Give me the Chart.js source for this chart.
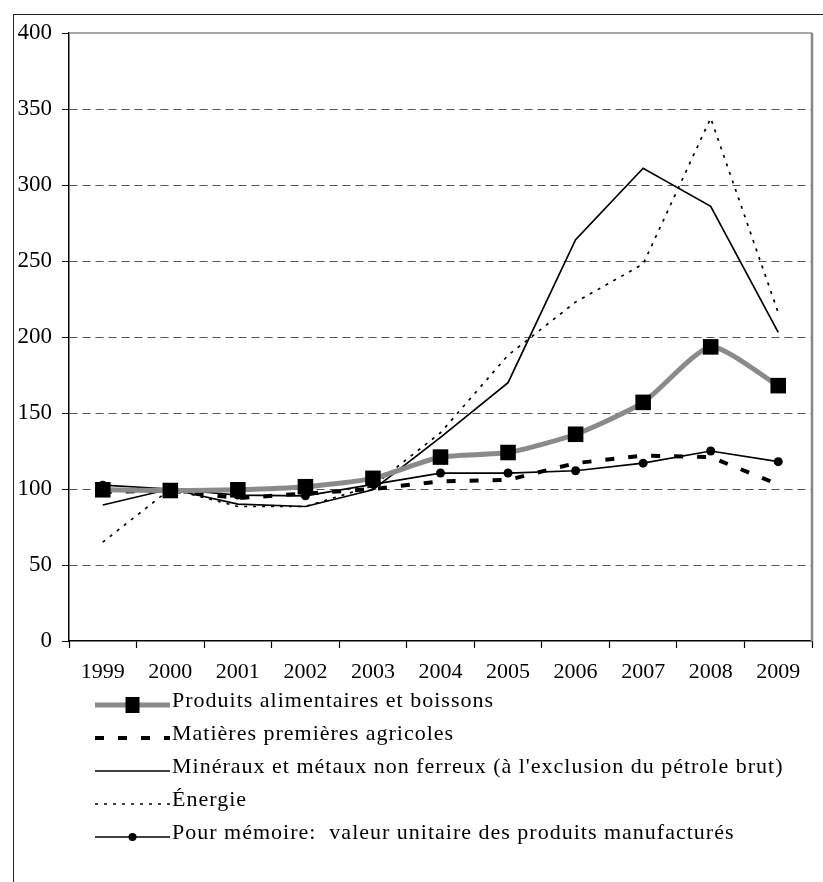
<!DOCTYPE html>
<html>
<head>
<meta charset="utf-8">
<script src="https://cdn.jsdelivr.net/npm/chart.js@4.4.0/dist/chart.umd.min.js"></script>
<style>
  html, body { margin: 0; padding: 0; background: #fff; overflow: hidden; }
  #frame { position: absolute; left: 13px; top: 14px; width: 1000px; height: 1000px;
           border-left: 1.5px solid #222; border-top: 1.5px solid #222; }
  #chart { position: absolute; left: 0; top: 0; }
  #legend { position: absolute; left: 95px; top: 683px; font-family: "Liberation Serif", serif;
            font-size: 22px; letter-spacing: 1px; color: #000; }
  .row { height: 33px; display: flex; align-items: center; white-space: pre; }
  .row canvas { margin-right: 2px; }
</style>
</head>
<body>
<div id="frame"></div>
<canvas id="chart" width="823" height="700"></canvas>
<div id="legend"></div>
<script>
// indices
const years = ['1999', '2000', '2001', '2002', '2003', '2004', '2005', '2006', '2007', '2008', '2009'];
const alimentaires = [99.5, 99, 99.5, 101.5, 107, 121, 124, 136, 157, 193.5, 168];
const agricoles = [98, 99, 94, 97, 100, 105, 106, 117, 122, 121, 103];
const mineraux = [89.5, 100, 90, 88.5, 99.5, 134, 170, 264, 311, 286, 203];
const energie = [65, 100, 88.5, 88.5, 102, 137, 188, 223, 248, 344, 216];
const manufactures = [102.5, 100, 96, 95.5, 103, 110.5, 110.5, 112, 117, 125, 118];

const labels = [
  'Produits alimentaires et boissons',
  'Matières premières agricoles',
  "Minéraux et métaux non ferreux (à l'exclusion du pétrole brut)",
  'Énergie',
  'Pour mémoire:  valeur unitaire des produits manufacturés'
];

const FONT = 'Liberation Serif';

// gray frame on top and right of the plot
const framePlugin = {
  id: 'frame',
  beforeDatasetsDraw(chart) {
    const {ctx, chartArea: a} = chart;
    ctx.save();
    ctx.strokeStyle = '#888';
    ctx.lineWidth = 1.5;
    ctx.beginPath();
    ctx.moveTo(a.left, a.top);
    ctx.lineTo(a.right, a.top);
    ctx.stroke();
    ctx.lineWidth = 2.5;
    ctx.beginPath();
    ctx.moveTo(a.right, a.top);
    ctx.lineTo(a.right, a.bottom);
    ctx.stroke();
    ctx.restore();
  }
};

const chart = new Chart(document.getElementById('chart'), {
  type: 'line',
  data: {
    labels: years,
    datasets: [
      {
        label: labels[0], data: alimentaires,
        borderColor: '#8a8a8a', borderWidth: 5, tension: 0.2,
        pointStyle: 'rect', pointRadius: 11, pointBackgroundColor: '#000',
        pointBorderColor: '#000', pointBorderWidth: 0
      },
      {
        label: labels[1], data: agricoles,
        borderColor: '#000', borderWidth: 4, borderDash: [9, 14], pointRadius: 0
      },
      {
        label: labels[2], data: mineraux,
        borderColor: '#000', borderWidth: 1.7, pointRadius: 0
      },
      {
        label: labels[3], data: energie,
        borderColor: '#000', borderWidth: 1.7, borderDash: [3, 6], pointRadius: 0
      },
      {
        label: labels[4], data: manufactures,
        borderColor: '#000', borderWidth: 1.7,
        pointStyle: 'circle', pointRadius: 4.5, pointBackgroundColor: '#000',
        pointBorderColor: '#000', pointBorderWidth: 0
      }
    ]
  },
  options: {
    responsive: false,
    animation: false,
    layout: { padding: { top: 33, right: 7, left: 0, bottom: 0 } },
    plugins: { legend: { display: false }, tooltip: { enabled: false } },
    scales: {
      x: {
        offset: true,
        grid: { offset: true, drawOnChartArea: false, tickLength: 7, tickColor: '#000', tickWidth: 1.2 },
        border: { color: '#000', width: 1.5 },
        ticks: { color: '#000', font: { family: FONT, size: 22 }, padding: 11, maxRotation: 0, autoSkip: false },
        afterFit: s => { s.height = 59; }
      },
      y: {
        min: 0, max: 400,
        ticks: { stepSize: 50, color: '#000', font: { family: FONT, size: 23 }, padding: 10 },
        grid: {
          color: c => (c.tick && (c.tick.value === 0 || c.tick.value === 400)) ? 'rgba(0,0,0,0)' : '#555',
          tickColor: '#000', tickLength: 7, lineWidth: 1
        },
        border: { color: '#000', width: 1.5, dash: [8, 5] },
        afterFit: s => { s.width = 69; }
      }
    }
  },
  plugins: [framePlugin]
});

// legend, built from the datasets
const legend = document.getElementById('legend');
chart.data.datasets.forEach(ds => {
  const row = document.createElement('div');
  row.className = 'row';
  const c = document.createElement('canvas');
  c.width = 75; c.height = 33;
  const g = c.getContext('2d');
  const ly = 22;
  g.strokeStyle = ds.borderColor;
  g.lineWidth = ds.borderWidth;
  g.setLineDash(ds.borderDash || []);
  g.beginPath(); g.moveTo(0, ly); g.lineTo(75, ly); g.stroke();
  g.setLineDash([]);
  g.fillStyle = '#000';
  if (ds.pointStyle === 'rect' && ds.pointRadius) {
    g.fillRect(37.5 - 7, ly - 8, 14, 16);
  } else if (ds.pointStyle === 'circle' && ds.pointRadius) {
    g.beginPath(); g.arc(37.5, ly, 4, 0, Math.PI * 2); g.fill();
  }
  const t = document.createElement('span');
  t.textContent = ds.label;
  row.appendChild(c);
  row.appendChild(t);
  legend.appendChild(row);
});
</script>
</body>
</html>
